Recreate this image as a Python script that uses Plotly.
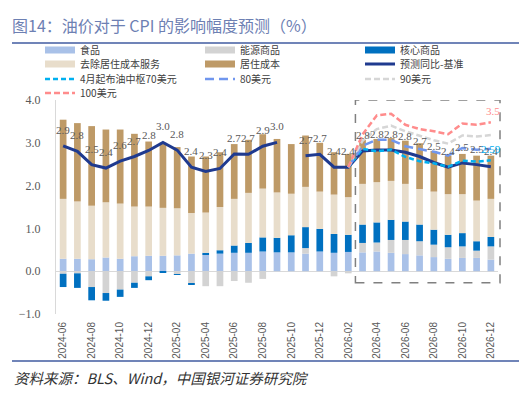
import plotly.graph_objects as go

# ---------------- data ----------------
months = ["2024-06", "2024-07", "2024-08", "2024-09", "2024-10", "2024-11", "2024-12",
          "2025-01", "2025-02", "2025-03", "2025-04", "2025-05", "2025-06", "2025-07",
          "2025-08", "2025-09", "2025-10", "2025-11", "2025-12", "2026-01", "2026-02",
          "2026-03", "2026-04", "2026-05", "2026-06", "2026-07", "2026-08", "2026-09",
          "2026-10", "2026-11", "2026-12"]
tick_months = months[::2]

food = [0.29, 0.29, 0.28, 0.32, 0.29, 0.35, 0.36, 0.36, 0.37, 0.41, 0.39, 0.41, 0.43, 0.43,
        0.46, 0.44, 0.44, 0.41, 0.46, 0.43, 0.45, 0.44, 0.46, 0.43, 0.40, 0.37, 0.33, 0.29,
        0.31, 0.31, 0.27]
energy = [-0.06, -0.05, -0.37, -0.51, -0.43, -0.27, -0.12, -0.01, -0.07, -0.29, -0.35, -0.35,
          -0.23, -0.27, -0.18, 0.00, 0.00, 0.13, 0.00, -0.12, -0.05, 0.22, 0.21, 0.30, 0.33,
          0.33, 0.29, 0.27, 0.27, 0.17, 0.31]
core = [-0.31, -0.34, -0.31, -0.18, -0.17, -0.12, -0.09, -0.03, -0.01, -0.02, 0.04, 0.08,
        0.17, 0.23, 0.33, 0.34, 0.40, 0.49, 0.53, 0.44, 0.40, 0.43, 0.47, 0.47, 0.43, 0.39,
        0.35, 0.29, 0.31, 0.22, 0.22]
services = [1.40, 1.34, 1.25, 1.29, 1.29, 1.16, 1.15, 1.12, 1.10, 0.95, 0.94, 1.01, 1.09, 1.17,
            1.14, 1.06, 0.97, 0.94, 0.87, 0.92, 0.88, 0.95, 0.94, 0.91, 0.88, 0.83, 0.89, 0.95,
            0.91, 0.95, 0.89]
housing = [1.85, 1.83, 1.86, 1.70, 1.73, 1.70, 1.52, 1.52, 1.43, 1.32, 1.31, 1.28, 1.28, 1.24,
           1.27, 1.25, 1.16, 1.20, 1.14, 0.99, 1.01, 1.03, 1.01, 1.00, 1.01, 1.07, 0.95, 0.90,
           0.94, 1.05, 1.01]

baseline = [2.93, 2.80, 2.49, 2.41, 2.57, 2.68, 2.82, 3.01, 2.83, 2.43, 2.33, 2.40, 2.74, 2.73,
            2.92, 3.01, None, 2.70, 2.73, 2.43, 2.43, 2.81, 2.83, 2.83, 2.78, 2.68, 2.54, 2.43,
            2.53, 2.49, 2.44]

N = None
oil70 = [N] * 20 + [2.43, 2.86, 2.80, 2.84, 2.67, 2.57, 2.52, 2.44, 2.58, 2.56, 2.59]
oil80 = [N] * 20 + [2.43, 2.93, 3.07, 3.07, 2.92, 2.86, 2.79, 2.70, 2.88, 2.84, 2.86]
oil90 = [N] * 20 + [2.43, 3.05, 3.32, 3.40, 3.27, 3.16, 3.06, 2.98, 3.17, 3.15, 3.18]
oil100 = [N] * 20 + [2.43, 3.20, 3.64, 3.68, 3.42, 3.32, 3.27, 3.20, 3.45, 3.42, 3.48]

forecast_start = "2026-03"

# ---------------- layout helpers ----------------
# the page body adds an 8px margin, so the figure is drawn 8px smaller and
# page-pixel positions are converted with that offset
OFF = 8
PAGE_W, PAGE_H = 527, 394
W, H = PAGE_W - OFF, PAGE_H - OFF
PLOT_L, PLOT_R, PLOT_T, PLOT_B = 56, 498, 100, 314          # page pixels
ML, MR, MT, MB = PLOT_L - OFF, PAGE_W - PLOT_R, PLOT_T - OFF, PAGE_H - PLOT_B
PW, PH = W - ML - MR, H - MT - MB


def px_x(px):
    return (px - OFF - ML) / PW


def px_y(py):
    return (H - MB - (py - OFF)) / PH


NUM_FONT = "Liberation Serif, Noto Sans CJK SC"
SANS_FONT = "Liberation Sans, Noto Sans CJK SC"
CJK_FONT = "Noto Sans CJK SC, Liberation Serif"

C_FOOD = "#A9C1E8"
C_ENERGY = "#D3D3D3"
C_CORE = "#0070C0"
C_SERV = "#E8DDCB"
C_HOUS = "#BE9A67"
C_BASE = "#1F3A8F"
C_70 = "#00B0F0"
C_80 = "#7096EE"
C_90 = "#D6D6D6"
C_100 = "#FF8C8C"

# legend grid (page pixels): column left edges and row centres
LEG_COLS = [40, 200, 360]
LEG_ROWS = [50, 64, 79, 93]
leg_ids = ["legend"] + [f"legend{i}" for i in range(2, 11)]

fig = go.Figure()

bars = [("食品", food, C_FOOD),
        ("能源商品", energy, C_ENERGY),
        ("核心商品", core, C_CORE),
        ("去除居住成本服务", services, C_SERV),
        ("居住成本", housing, C_HOUS)]

k = 0
for name, vals, col in bars:
    fig.add_trace(go.Bar(x=months, y=vals, name=name, marker=dict(color=col, line=dict(width=0)),
                         showlegend=False))
    # legend proxy (wide flat swatch like the original)
    fig.add_trace(go.Scatter(x=[None], y=[None], mode="lines", name=name,
                             line=dict(color=col, width=7), legend=leg_ids[k]))
    k += 1

lines = [("预测同比-基准", baseline, dict(color=C_BASE, width=3)),
         ("4月起布油中枢70美元", oil70, dict(color=C_70, width=2.5, dash="5px,3px")),
         ("80美元", oil80, dict(color=C_80, width=2.5, dash="9px,5px")),
         ("90美元", oil90, dict(color=C_90, width=2.5, dash="6px,3px")),
         ("100美元", oil100, dict(color=C_100, width=2.5, dash="6px,3px"))]
for name, vals, ln in lines:
    fig.add_trace(go.Scatter(x=months, y=vals, mode="lines", name=name, line=ln,
                             connectgaps=False, legend=leg_ids[k]))
    k += 1

annotations = []
# value labels of the baseline line
for m, v in zip(months, baseline):
    if v is None:
        continue
    annotations.append(dict(x=m, y=v, xref="x", yref="y", text=f"{v:.1f}", showarrow=False,
                            yshift=16, font=dict(family=NUM_FONT, size=11, color="#595959")))
# end labels of scenario lines
annotations.append(dict(x=months[-1], y=oil100[-1], xref="x", yref="y", text=f"{oil100[-1]:.1f}",
                        showarrow=False, yshift=11, xshift=2,
                        font=dict(family=NUM_FONT, size=11, color=C_100)))
annotations.append(dict(x=months[-1], y=oil70[-1], xref="x", yref="y", text=f"{oil70[-1]:.2f}",
                        showarrow=False, yshift=11, xshift=0,
                        font=dict(family=NUM_FONT, size=11, color=C_70)))
# footer
annotations.append(dict(x=px_x(12), y=px_y(377), xref="paper", yref="paper", xanchor="left",
                        yanchor="middle", showarrow=False,
                        text="<i>资料来源：BLS、Wind，中国银河证券研究院</i>",
                        font=dict(family=CJK_FONT, size=14.5, color="#333333")))

fidx = months.index(forecast_start)
shapes = [
    dict(type="line", xref="paper", yref="paper", x0=px_x(12), x1=px_x(527), y0=px_y(43),
         y1=px_y(43), line=dict(color="#7084B8", width=2)),
    dict(type="line", xref="paper", yref="paper", x0=px_x(12), x1=px_x(527), y0=px_y(361),
         y1=px_y(361), line=dict(color="#7084B8", width=2)),
    dict(type="rect", xref="paper", yref="y", x0=fidx / len(months), x1=px_x(500),
         y0=-0.27, y1=4.0, line=dict(color="#808080", width=1.5, dash="dash"), layer="above"),
]

legends = {}
for i, lid in enumerate(leg_ids):
    r, c = divmod(i, 3)
    legends[lid] = dict(orientation="h", xanchor="left", yanchor="middle",
                        x=px_x(LEG_COLS[c]), y=px_y(LEG_ROWS[r]),
                        bgcolor="rgba(0,0,0,0)",
                        font=dict(family=CJK_FONT, size=10, color="#404040"))

fig.update_layout(
    width=W, height=H,
    margin=dict(l=ML, r=MR, t=MT, b=MB, autoexpand=False),
    paper_bgcolor="white", plot_bgcolor="white",
    barmode="relative", bargap=0.53,
    title=dict(text="图14：油价对于 CPI 的影响幅度预测（%）", xref="container", yref="container",
               x=(12 - OFF) / W, y=1 - (26 - OFF) / H, xanchor="left", yanchor="middle",
               font=dict(family=CJK_FONT, size=16, color="#6D80B3")),
    xaxis=dict(type="category", categoryorder="array", categoryarray=months,
               range=[-0.5, len(months) - 0.5], tickvals=tick_months, ticktext=tick_months,
               tickangle=-90, ticks="", showgrid=False, showline=False, zeroline=False,
               ticklabelstandoff=5,
               tickfont=dict(family=SANS_FONT, size=10, color="#595959")),
    yaxis=dict(range=[-1, 4], dtick=1, tick0=0, tickformat=".1f", showgrid=False,
               zeroline=True, zerolinecolor="#D9D9D9", zerolinewidth=1,
               showline=True, linecolor="#D9D9D9", linewidth=1, ticks="",
               ticklabelstandoff=12,
               tickfont=dict(family=NUM_FONT, size=12, color="#595959")),
    annotations=annotations,
    shapes=shapes,
    **legends,
)

fig.write_html("out.html")
